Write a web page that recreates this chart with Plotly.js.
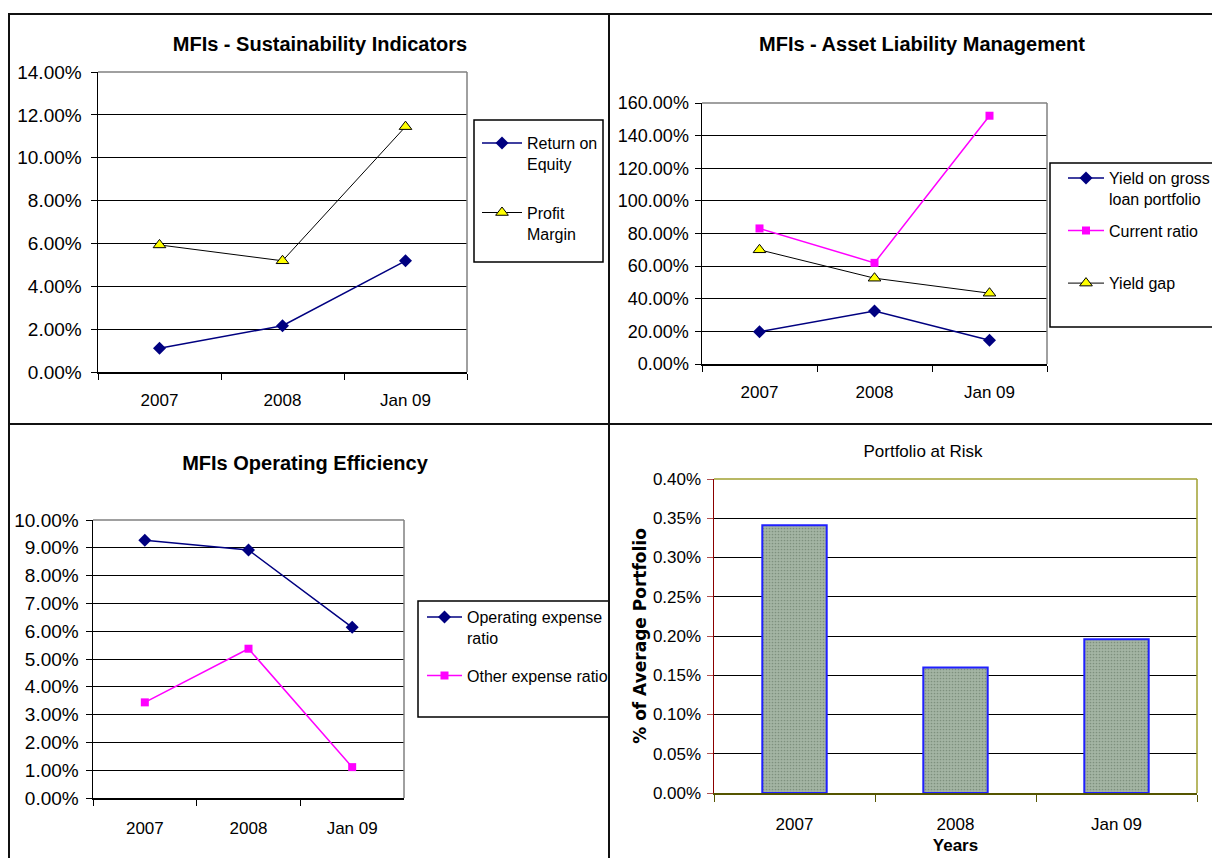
<!DOCTYPE html>
<html>
<head>
<meta charset="utf-8">
<script src="https://cdn.plot.ly/plotly-3.0.1.min.js"></script>
<style>
  html, body { margin:0; padding:0; background:#fff; }
  body { width:1212px; height:858px; position:relative; overflow:hidden; }
  .clip { position:absolute; overflow:hidden; }
  .plot { position:absolute; width:1212px; height:858px; }
  .ln { position:absolute; background:#111; z-index:10; }
</style>
</head>
<body>
<div class="clip" style="left:10px;top:16px;width:598px;height:407px"><div id="pA" class="plot" style="left:-10px;top:-16px"></div></div>
<div class="clip" style="left:610px;top:16px;width:602px;height:407px"><div id="pB" class="plot" style="left:-610px;top:-16px"></div></div>
<div class="clip" style="left:10px;top:425px;width:598px;height:433px"><div id="pC" class="plot" style="left:-10px;top:-425px"></div></div>
<div class="clip" style="left:610px;top:425px;width:602px;height:433px"><div id="pD" class="plot" style="left:-610px;top:-425px"></div></div>
<div class="ln" style="left:8px;top:13px;width:1204px;height:2px"></div>
<div class="ln" style="left:8px;top:13px;width:2px;height:845px"></div>
<div class="ln" style="left:608px;top:13px;width:2px;height:845px"></div>
<div class="ln" style="left:8px;top:423px;width:1204px;height:2px"></div>
<script>
// ---------- data ----------
const years = ['2007', '2008', 'Jan 09'];
const returnOnEquity = [0.0111, 0.0216, 0.0519];
const profitMargin = [0.0593, 0.0519, 0.1145];
const yieldOnGrossLoan = [0.198, 0.325, 0.145];
const currentRatio = [0.831, 0.620, 1.522];
const yieldGap = [0.700, 0.526, 0.434];
const operatingExpenseRatio = [0.0927, 0.0892, 0.0614];
const otherExpenseRatio = [0.0344, 0.0537, 0.0111];
const portfolioAtRisk = [0.00341, 0.00160, 0.00196];

// ---------- helpers ----------
const W = 1212, H = 858;
const X = p => p / W;
const Y = p => 1 - p / H;
const FONT = 'Liberation Sans, Arial, Helvetica, sans-serif';

function baseLayout(o) {
  return Object.assign({
    width: W, height: H,
    margin: {l: 0, r: 0, t: 0, b: 0, pad: 0, autoexpand: false},
    paper_bgcolor: 'rgba(0,0,0,0)',
    plot_bgcolor: '#ffffff',
    font: {family: FONT, size: 17, color: '#000'},
  }, o);
}
function xAxis(x0, x1, extra) {
  return Object.assign({
    type: 'category', domain: [X(x0), X(x1)], range: [-0.5, 2.5], autorange: false,
    showline: true, linecolor: '#000', linewidth: 1.5,
    ticks: 'outside', tickson: 'boundaries', ticklen: 6, tickcolor: '#000', tickwidth: 1,
    showgrid: false, zeroline: false,
    tickfont: {family: FONT, size: 17, color: '#000'},
    ticklabelstandoff: 12, fixedrange: true
  }, extra || {});
}
function yAxis(y0, y1, range, dtick, fs, standoff, extra) {
  return Object.assign({
    domain: [Y(y1), Y(y0)], range: range, autorange: false, dtick: dtick, tick0: 0,
    tickformat: '.2%',
    showline: true, linecolor: '#000', linewidth: 1.5,
    ticks: 'outside', ticklen: 6, tickcolor: '#000', tickwidth: 1,
    showgrid: true, gridcolor: '#000', gridwidth: 1, zeroline: false,
    tickfont: {family: FONT, size: fs, color: '#000'},
    ticklabelstandoff: standoff, fixedrange: true
  }, extra || {});
}
function frame(color) {
  return [
    {type: 'line', xref: 'x domain', yref: 'y domain', x0: 0, x1: 1, y0: 1, y1: 1, line: {color: color, width: 1.5}, layer: 'above'},
    {type: 'line', xref: 'x domain', yref: 'y domain', x0: 1, x1: 1, y0: 0, y1: 1, line: {color: color, width: 1.5}, layer: 'above'}
  ];
}
function legendBox(x0, y0, x1, y1) {
  return {type: 'rect', xref: 'paper', yref: 'paper', x0: X(x0), x1: X(x1), y0: Y(y1), y1: Y(y0),
          line: {color: '#000', width: 1.5}, fillcolor: 'rgba(0,0,0,0)', layer: 'below'};
}
function legend(x, y, itemwidth, gap) {
  return {x: X(x), y: Y(y), xref: 'paper', yref: 'paper', xanchor: 'left', yanchor: 'top',
          bgcolor: 'rgba(0,0,0,0)', borderwidth: 0, valign: 'top', itemwidth: itemwidth,
          tracegroupgap: gap, traceorder: 'grouped', font: {family: FONT, size: 16, color: '#000'}};
}
function titleOf(text, x, y, size, bold) {
  return {text: bold ? '<b>' + text + '</b>' : text, x: X(x), y: Y(y), xref: 'paper', yref: 'paper',
          xanchor: 'center', yanchor: 'middle', font: {family: FONT, size: size, color: '#000'}};
}
const NAVY = '#000080', MAG = '#ff00ff';
const cfg = {staticPlot: true, displayModeBar: false};

// ---------- Panel A ----------
Plotly.newPlot('pA', [
  {x: years, y: returnOnEquity, type: 'scatter', mode: 'lines+markers', name: 'Return on<br>Equity',
   legendgroup: 'a1', line: {color: NAVY, width: 1.5}, marker: {symbol: 'diamond', size: 10, color: NAVY}},
  {x: years, y: profitMargin, type: 'scatter', mode: 'lines+markers', name: 'Profit<br>Margin',
   legendgroup: 'a2', line: {color: '#000', width: 1},
   marker: {symbol: 'triangle-up', size: 11, color: '#ffff00', line: {color: '#000', width: 1}}}
], baseLayout({
  title: titleOf('MFIs - Sustainability Indicators', 320, 44, 20, true),
  xaxis: xAxis(98, 467),
  yaxis: yAxis(72, 372, [0, 0.14], 0.02, 19, 5),
  legend: legend(477, 126, 40, 25),
  shapes: frame('#808080').concat([legendBox(474, 120, 603, 262)])
}), cfg);

// ---------- Panel B ----------
Plotly.newPlot('pB', [
  {x: years, y: yieldOnGrossLoan, type: 'scatter', mode: 'lines+markers', name: 'Yield on gross<br>loan portfolio',
   legendgroup: 'b1', line: {color: NAVY, width: 1.5}, marker: {symbol: 'diamond', size: 10, color: NAVY}},
  {x: years, y: currentRatio, type: 'scatter', mode: 'lines+markers', name: 'Current ratio<br> ',
   legendgroup: 'b2', line: {color: MAG, width: 1.5}, marker: {symbol: 'square', size: 8, color: MAG}},
  {x: years, y: yieldGap, type: 'scatter', mode: 'lines+markers', name: 'Yield gap<br> ',
   legendgroup: 'b3', line: {color: '#000', width: 1},
   marker: {symbol: 'triangle-up', size: 11, color: '#ffff00', line: {color: '#000', width: 1}}}
], baseLayout({
  title: titleOf('MFIs - Asset Liability Management', 922, 44, 20, true),
  xaxis: xAxis(702, 1047),
  yaxis: yAxis(103, 364, [0, 1.6], 0.2, 18, 2),
  legend: legend(1063, 161, 36, 8),
  shapes: frame('#808080').concat([legendBox(1050, 163, 1240, 327)])
}), cfg);

// ---------- Panel C ----------
Plotly.newPlot('pC', [
  {x: years, y: operatingExpenseRatio, type: 'scatter', mode: 'lines+markers', name: 'Operating expense<br>ratio',
   legendgroup: 'c1', line: {color: NAVY, width: 1.5}, marker: {symbol: 'diamond', size: 10, color: NAVY}},
  {x: years, y: otherExpenseRatio, type: 'scatter', mode: 'lines+markers', name: 'Other expense ratio',
   legendgroup: 'c2', line: {color: MAG, width: 1.5}, marker: {symbol: 'square', size: 8, color: MAG}}
], baseLayout({
  title: titleOf('MFIs Operating Efficiency', 305, 463, 20, true),
  xaxis: xAxis(93, 404, {ticklabelstandoff: 14}),
  yaxis: yAxis(520, 798, [0, 0.10], 0.01, 19, 3),
  legend: legend(422, 600, 35, 14),
  shapes: frame('#808080').concat([legendBox(418, 601, 700, 717)])
}), cfg);

// ---------- Panel D ----------
Plotly.newPlot('pD', [
  {x: years, y: portfolioAtRisk, type: 'bar', showlegend: false,
   marker: {color: '#a4b5a4', line: {color: '#2020ff', width: 2},
            pattern: {shape: '.', fgcolor: '#7e907e', bgcolor: '#a4b5a4', size: 3, solidity: 0.25}}}
], baseLayout({
  title: titleOf('Portfolio at Risk', 923, 451, 17, false),
  bargap: 0.6,
  showlegend: false,
  xaxis: xAxis(714, 1197, {linecolor: '#555500', tickcolor: '#555500', ticklen: 7, ticklabelstandoff: 15,
    title: {text: '<b>Years</b>', font: {family: FONT, size: 17, color: '#000'}, standoff: 6}}),
  yaxis: yAxis(479, 793, [0, 0.004], 0.0005, 17, 2, {linecolor: '#8b0000', tickcolor: '#b05050',
    title: {text: '<b>% of Average Portfolio</b>', font: {family: 'DejaVu Sans, ' + FONT, size: 17, color: '#000'}, standoff: 2}}),
  shapes: frame('#a0a030')
}), cfg);
</script>
</body>
</html>
